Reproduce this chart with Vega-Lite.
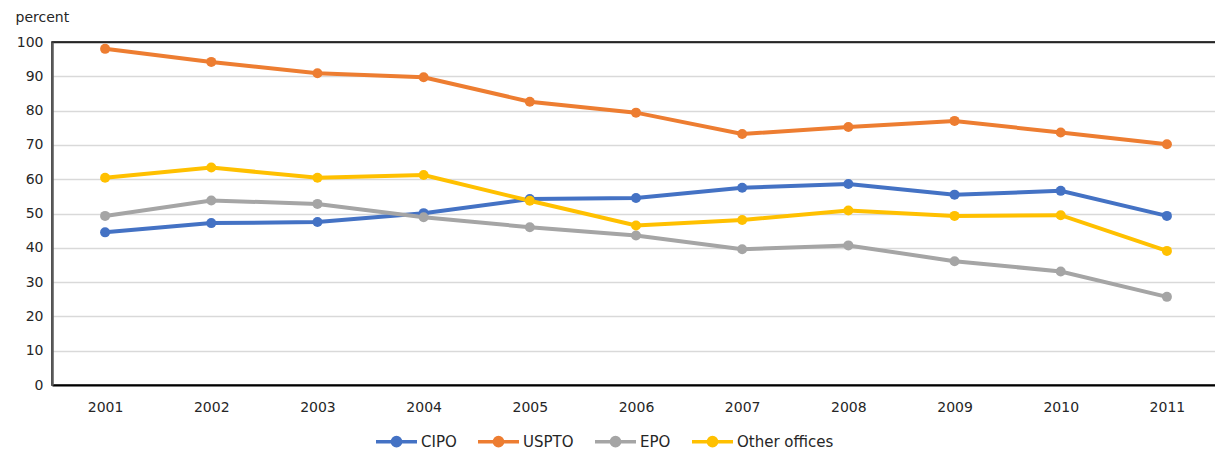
{
  "$schema": "https://vega.github.io/schema/vega-lite/v6.json",
  "width": 1168,
  "height": 343,
  "autosize": "none",
  "padding": {"left": 52, "top": 42, "right": 0, "bottom": 65},
  "background": "white",
  "config": {
    "font": "DejaVu Sans",
    "view": {"stroke": "#000000", "strokeWidth": 1.5},
    "axis": {
      "labelFont": "DejaVu Sans",
      "labelFontSize": 14,
      "labelColor": "#262626",
      "ticks": false
    }
  },
  "data": {
    "values": [
      {"year": "2001", "office": "CIPO", "value": 44.5},
      {"year": "2002", "office": "CIPO", "value": 47.2},
      {"year": "2003", "office": "CIPO", "value": 47.5},
      {"year": "2004", "office": "CIPO", "value": 50.1},
      {"year": "2005", "office": "CIPO", "value": 54.2},
      {"year": "2006", "office": "CIPO", "value": 54.5},
      {"year": "2007", "office": "CIPO", "value": 57.5},
      {"year": "2008", "office": "CIPO", "value": 58.6},
      {"year": "2009", "office": "CIPO", "value": 55.5},
      {"year": "2010", "office": "CIPO", "value": 56.6},
      {"year": "2011", "office": "CIPO", "value": 49.3},
      {"year": "2001", "office": "USPTO", "value": 98.0},
      {"year": "2002", "office": "USPTO", "value": 94.2},
      {"year": "2003", "office": "USPTO", "value": 90.9},
      {"year": "2004", "office": "USPTO", "value": 89.7},
      {"year": "2005", "office": "USPTO", "value": 82.6},
      {"year": "2006", "office": "USPTO", "value": 79.4},
      {"year": "2007", "office": "USPTO", "value": 73.2},
      {"year": "2008", "office": "USPTO", "value": 75.2},
      {"year": "2009", "office": "USPTO", "value": 77.0},
      {"year": "2010", "office": "USPTO", "value": 73.6},
      {"year": "2011", "office": "USPTO", "value": 70.2},
      {"year": "2001", "office": "EPO", "value": 49.3},
      {"year": "2002", "office": "EPO", "value": 53.8},
      {"year": "2003", "office": "EPO", "value": 52.8},
      {"year": "2004", "office": "EPO", "value": 48.9},
      {"year": "2005", "office": "EPO", "value": 46.0},
      {"year": "2006", "office": "EPO", "value": 43.6},
      {"year": "2007", "office": "EPO", "value": 39.6},
      {"year": "2008", "office": "EPO", "value": 40.7},
      {"year": "2009", "office": "EPO", "value": 36.1},
      {"year": "2010", "office": "EPO", "value": 33.1},
      {"year": "2011", "office": "EPO", "value": 25.7},
      {"year": "2001", "office": "Other offices", "value": 60.4},
      {"year": "2002", "office": "Other offices", "value": 63.4},
      {"year": "2003", "office": "Other offices", "value": 60.4},
      {"year": "2004", "office": "Other offices", "value": 61.2},
      {"year": "2005", "office": "Other offices", "value": 53.7},
      {"year": "2006", "office": "Other offices", "value": 46.5},
      {"year": "2007", "office": "Other offices", "value": 48.1},
      {"year": "2008", "office": "Other offices", "value": 50.9},
      {"year": "2009", "office": "Other offices", "value": 49.3},
      {"year": "2010", "office": "Other offices", "value": 49.5},
      {"year": "2011", "office": "Other offices", "value": 39.1}
    ]
  },
  "mark": {
    "type": "line",
    "strokeWidth": 4,
    "point": {"filled": true, "size": 100, "opacity": 1}
  },
  "encoding": {
    "x": {
      "field": "year",
      "type": "ordinal",
      "title": null,
      "scale": {"type": "point", "padding": 0.5},
      "axis": {
        "labelAngle": 0,
        "labelPadding": 15,
        "domainColor": "#000000",
        "domainWidth": 2,
        "grid": false
      }
    },
    "y": {
      "field": "value",
      "type": "quantitative",
      "scale": {"domain": [0, 100], "nice": false},
      "axis": {
        "values": [0, 10, 20, 30, 40, 50, 60, 70, 80, 90, 100],
        "title": "percent",
        "titleAngle": 0,
        "titleX": -37,
        "titleY": -25,
        "titleAlign": "left",
        "titleBaseline": "middle",
        "titleFont": "DejaVu Sans",
        "titleFontSize": 14,
        "titleFontWeight": "normal",
        "titleColor": "#262626",
        "labelPadding": 9,
        "domainColor": "#595959",
        "domainWidth": 2.5,
        "gridColor": {
          "condition": {"test": "datum.value === 100", "value": "#262626"},
          "value": "#D9D9D9"
        },
        "gridWidth": 1.3
      }
    },
    "color": {
      "field": "office",
      "type": "nominal",
      "scale": {
        "domain": ["CIPO", "USPTO", "EPO", "Other offices"],
        "range": ["#4472C4", "#ED7D31", "#A5A5A5", "#FFC000"]
      },
      "legend": {
        "title": null,
        "orient": "none",
        "direction": "horizontal",
        "legendX": 322,
        "legendY": 377,
        "symbolType": "M-1,0H1M0.2,0A0.2,0.2 0 1,1 -0.2,0A0.2,0.2 0 1,1 0.2,0Z",
        "symbolSize": 1681,
        "symbolStrokeWidth": 3.5,
        "symbolOpacity": 1,
        "labelFont": "DejaVu Sans",
        "labelFontSize": 15,
        "labelColor": "#262626",
        "labelOffset": 2,
        "columnPadding": 14,
        "encode": {
          "symbols": {
            "update": {
              "fill": {"signal": "scale('color', datum.value)"},
              "stroke": {"signal": "scale('color', datum.value)"}
            }
          }
        }
      }
    }
  }
}
